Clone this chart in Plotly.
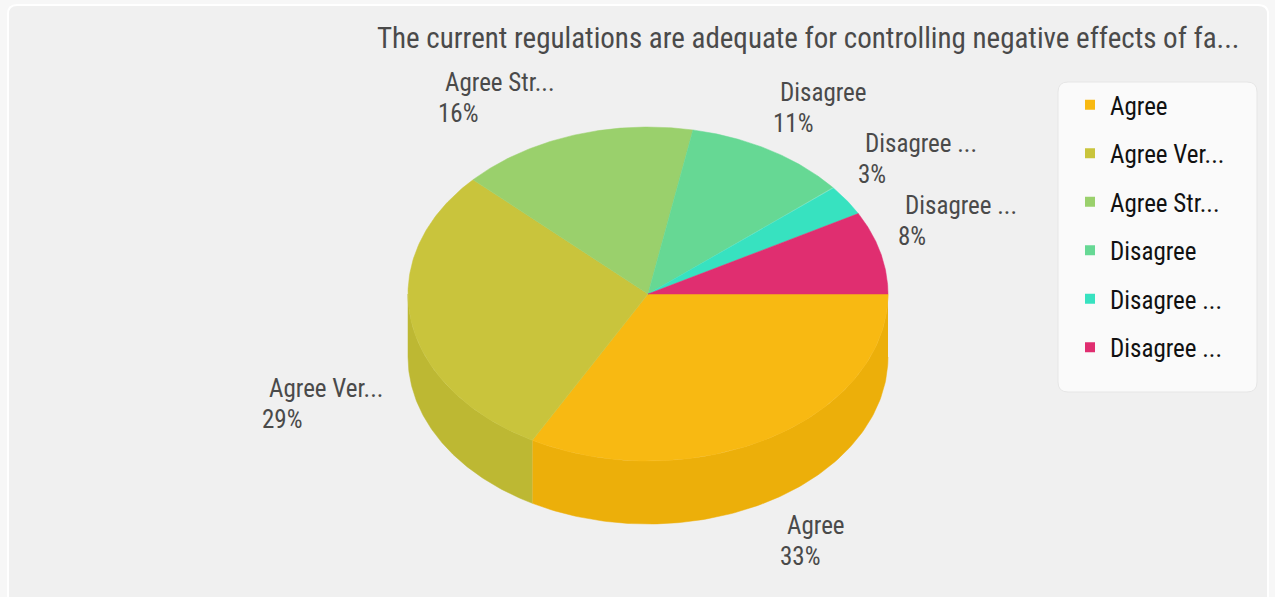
import numpy as np
import plotly.graph_objects as go

# ---- data ----
categories = ["Agree", "Agree Ver...", "Agree Str...", "Disagree", "Disagree ...", "Disagree ..."]
percent = [33, 29, 16, 11, 3, 8]
title_text = "The current regulations are adequate for controlling negative effects of fa..."

# ---- styling ----
top_colors = ["#F8B912", "#C9C43C", "#9AD06C", "#66D894", "#37E2C0", "#E02E70"]
side_colors = ["#ECAF0A", "#BDB833", "#8EC462", "#5CCC88", "#2FD6B4", "#D02866"]
W, H = 1275, 597
CX, CY, RX, RY, DEPTH = 648, 294, 240, 167, 63
FONT = "Roboto Condensed, DejaVu Sans Condensed, sans-serif"
TXT = "#4a4a4a"

fig = go.Figure()

frac = np.array(percent, dtype=float) / sum(percent)
ends = np.cumsum(frac) * 2 * np.pi
starts = ends - frac * 2 * np.pi


def arc(a, b, n=120, dy=0.0):
    t = np.linspace(a, b, n)
    return CX + RX * np.cos(t), CY + dy + RY * np.sin(t)


# side walls (front half only: 0..pi in screen-clockwise angles)
for a, b, c in zip(starts, ends, side_colors):
    lo, hi = max(a, 0.0), min(b, np.pi)
    if hi <= lo:
        continue
    xt, yt = arc(lo, hi)
    xb, yb = arc(lo, hi, dy=DEPTH)
    fig.add_trace(go.Scatter(
        x=np.concatenate([xt, xb[::-1]]), y=np.concatenate([yt, yb[::-1]]),
        fill="toself", fillcolor=c, mode="lines", line=dict(width=0.5, color=c),
        hoverinfo="skip", showlegend=False))

# top faces
for name, a, b, c in zip(categories, starts, ends, top_colors):
    xa, ya = arc(a, b)
    fig.add_trace(go.Scatter(
        x=np.concatenate([[CX], xa, [CX]]), y=np.concatenate([[CY], ya, [CY]]),
        fill="toself", fillcolor=c, mode="lines", line=dict(width=0.5, color=c),
        hoverinfo="text", text=name, showlegend=False))

# legend entries
for i, (name, c) in enumerate(zip(categories, top_colors)):
    fig.add_trace(go.Scatter(
        x=[None], y=[None], mode="markers", name=name, legendgroup=str(i),
        marker=dict(symbol="square", size=10, color=c)))

# slice labels: name line and percentage line
label_pos = [(785, 525), (267, 388), (443, 82), (778, 92), (863, 143), (903, 205)]
for name, p, (lx, ly) in zip(categories, percent, label_pos):
    fig.add_annotation(x=lx, y=ly, text=name, showarrow=False,
                       xanchor="left", yanchor="middle",
                       font=dict(family=FONT, size=25, color=TXT))
    fig.add_annotation(x=lx - 7, y=ly + 31, text=f"{p}%", showarrow=False,
                       xanchor="left", yanchor="middle",
                       font=dict(family=FONT, size=25, color=TXT))

fig.update_layout(
    width=W, height=H, margin=dict(l=0, r=0, t=0, b=0),
    paper_bgcolor="#F7F7F7", plot_bgcolor="rgba(0,0,0,0)",
    xaxis=dict(range=[0, W], visible=False, fixedrange=True),
    yaxis=dict(range=[H, 0], visible=False, fixedrange=True),
    title=dict(text=title_text, x=377 / W, xanchor="left", y=1 - 38 / H, yanchor="middle",
               font=dict(family=FONT, size=29, color=TXT)),
    legend=dict(x=1070 / W, y=1 - 82 / H, xanchor="left", yanchor="top",
                bgcolor="rgba(0,0,0,0)", font=dict(family=FONT, size=25, color="#111"),
                tracegroupgap=13),
    shapes=[
        dict(type="path", layer="below", xref="x", yref="y",
             path="M 8 598 L 8 14 Q 8 5 17 5 L 1258 5 Q 1268 5 1268 14 L 1268 598 Z",
             fillcolor="#F0F0F0", line=dict(color="#FFFFFF", width=2)),
        dict(type="path", layer="below", xref="x", yref="y",
             path="M 1058 92 Q 1058 82 1068 82 L 1247 82 Q 1257 82 1257 92 L 1257 382 "
                  "Q 1257 392 1247 392 L 1068 392 Q 1058 392 1058 382 Z",
             fillcolor="#FAFAFA", line=dict(color="#E6E6E6", width=1)),
    ],
)

fig.write_html("out.html")
